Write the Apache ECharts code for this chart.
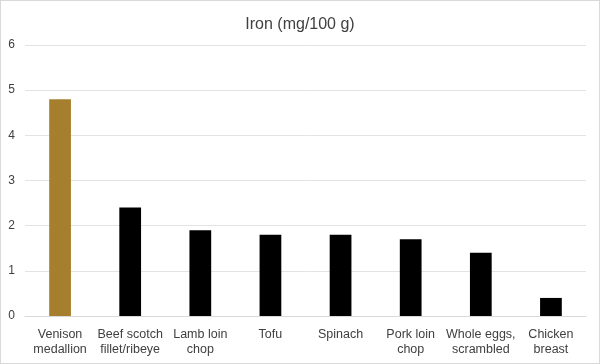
<!DOCTYPE html>
<html><head><meta charset="utf-8">
<script src="https://cdn.jsdelivr.net/npm/echarts@6/dist/echarts.min.js"></script>
<style>html,body{margin:0;padding:0;background:#fff}#c{width:600px;height:364px;box-sizing:border-box;border:1px solid #d9d9d9}</style>
</head><body><div id="c"></div>
<script>
const categories = ["Venison\nmedallion","Beef scotch\nfillet/ribeye","Lamb loin\nchop","Tofu","Spinach","Pork loin\nchop","Whole eggs,\nscrambled","Chicken\nbreast"];
const values = [4.8, 2.4, 1.9, 1.8, 1.8, 1.7, 1.4, 0.4];
const barColors = ["#A67F2E","#000000","#000000","#000000","#000000","#000000","#000000","#000000"];
const title = "Iron (mg/100 g)";
const chart = echarts.init(document.getElementById('c'));
chart.setOption({
  animation:false,
  textStyle:{fontFamily:'Liberation Sans, Arial, sans-serif'},
  title:{text:title,left:'center',top:11,textStyle:{fontSize:16,fontWeight:'normal',color:'#404040',fontFamily:'Liberation Sans, Arial, sans-serif'}},
  grid:{left:24,right:13,top:44,bottom:47},
  xAxis:{type:'category',data:categories,
    axisLine:{lineStyle:{color:'#d9d9d9'}},axisTick:{show:false},
    axisLabel:{color:'#404040',fontSize:12.5,interval:0,margin:11,lineHeight:15}},
  yAxis:{type:'value',min:0,max:6,interval:1,
    axisLabel:{color:'#404040',fontSize:12,margin:10},
    splitLine:{lineStyle:{color:'#e3e3e3'}},axisLine:{show:false}},
  series:[{type:'bar',barWidth:'31%',
    data:values.map((v,i)=>({value:v,itemStyle:{color:barColors[i]}}))}]
});
</script></body></html>
